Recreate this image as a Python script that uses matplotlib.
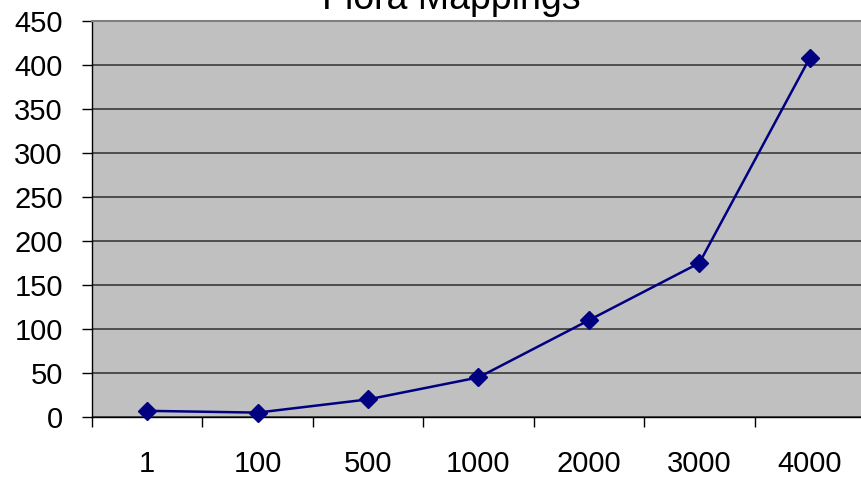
import numpy as np
import matplotlib.pyplot as plt

plt.rcParams['font.family'] = ['Liberation Sans', 'DejaVu Sans']

sizes = ['1', '100', '500', '1000', '2000', '3000', '4000']
mappings = [7, 5, 20, 45, 110, 175, 408]

W, H = 861, 480
fig = plt.figure(figsize=(W / 100, H / 100), dpi=100)
fig.patch.set_facecolor('white')

# plot area in pixel coordinates, right side runs off the canvas
left, right, top, bottom = 92, 865, 21, 417
ax = fig.add_axes([left / W, 1 - bottom / H, (right - left) / W, (bottom - top) / H])
ax.set_facecolor('#c0c0c0')

x = np.arange(len(sizes)) + 0.5
ax.plot(x, mappings, color='#000080', linewidth=1.8, marker='D', markersize=9.5,
        zorder=3, clip_on=False)

ax.set_xlim(0, len(sizes))
ax.set_ylim(0, 450)
ax.set_yticks(np.arange(0, 451, 50))
ax.yaxis.grid(True, color='#3a3a3a', linewidth=1.2)
ax.set_axisbelow(True)

ax.set_xticks(np.arange(0, len(sizes) + 1))
ax.set_xticklabels([])
ax.set_xticks(x, minor=True)
ax.set_xticklabels(sizes, minor=True)
ax.tick_params(axis='x', which='major', length=7, width=1, color='black', direction='out')
ax.tick_params(axis='x', which='minor', length=0, pad=24, labelsize=21)
ax.tick_params(axis='y', length=7, width=1, direction='out', labelsize=21, pad=14)

for side in ['left', 'bottom']:
    ax.spines[side].set_color('black')
    ax.spines[side].set_linewidth(1)
ax.spines['top'].set_color('#808080')
ax.spines['top'].set_linewidth(1.5)
ax.spines['right'].set_visible(False)

# title sits partly above the canvas edge
fig.text(451 / W, 1 - 9 / H, 'Flora Mappings', ha='center', va='baseline', fontsize=27)

fig.savefig('out.png', dpi=100)
